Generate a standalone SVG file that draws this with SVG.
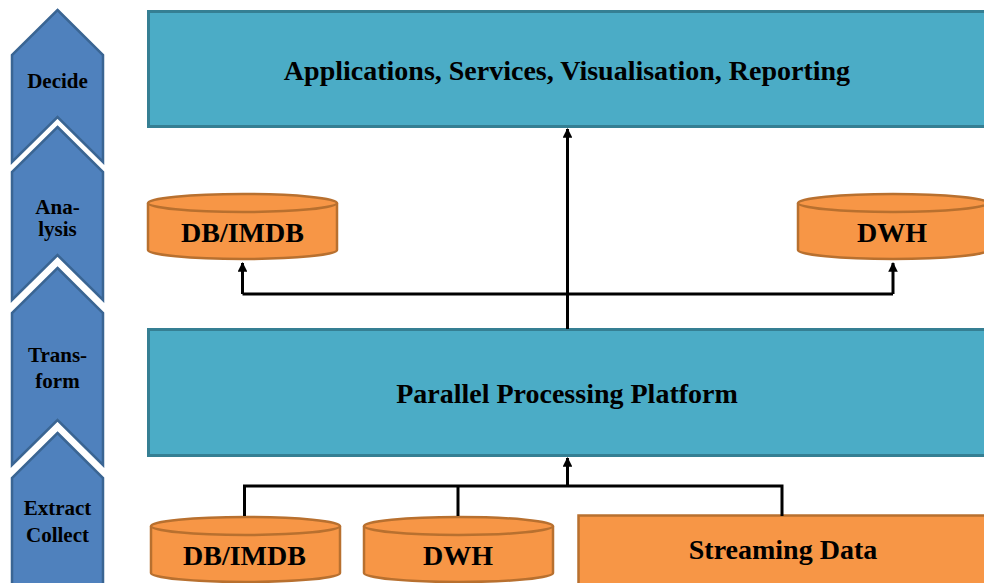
<svg xmlns="http://www.w3.org/2000/svg" width="984" height="583" viewBox="0 0 984 583">
<style>
.teal{fill:#4BACC6;stroke:#357F93;stroke-width:3}
.org{fill:#F79646;stroke:#B8702F;stroke-width:2.5}
.chev{fill:#4F81BD;stroke:#3A6593;stroke-width:2.5}
.t{font-family:"Liberation Serif","Times New Roman",serif;font-weight:bold;fill:#000;text-anchor:middle}
.big{font-size:28px}
.sm{font-size:21px}
.c{fill:none;stroke:#000;stroke-width:3}
</style>
<defs>
<marker id="ah" viewBox="0 0 10 10" refX="9" refY="5" markerWidth="3.2" markerHeight="3.2" orient="auto" markerUnits="strokeWidth">
<path d="M0,0 L10,5 L0,10 z" fill="#000"/>
</marker>
</defs>
<rect width="984" height="583" fill="#fff"/>
<g id="chevrons">
<g id="decide"><path class="chev" d="M57.5,10 L103,55 L103,162 L57.5,117 L12,162 L12,55 Z"/><text class="t sm" x="57.5" y="88">Decide</text></g>
<g id="analysis"><path class="chev" d="M57.5,127 L103,172 L103,300 L57.5,255 L12,300 L12,172 Z"/><text class="t sm" x="57.5" y="214">Ana-</text><text class="t sm" x="57.5" y="236">lysis</text></g>
<g id="transform"><path class="chev" d="M57.5,268 L103,313 L103,465 L57.5,420 L12,465 L12,313 Z"/><text class="t sm" x="57.5" y="362">Trans-</text><text class="t sm" x="57.5" y="388">form</text></g>
<g id="extract"><path class="chev" d="M57.5,433 L103,478 L103,600 L12,600 L12,478 Z"/><text class="t sm" x="57.5" y="515">Extract</text><text class="t sm" x="57.5" y="542">Collect</text></g>
</g>
<g id="applications"><rect class="teal" x="148.5" y="11.5" width="850" height="115"/><text class="t big" x="567" y="80">Applications, Services, Visualisation, Reporting</text></g>
<g id="platform"><rect class="teal" x="148.5" y="329.5" width="850" height="126"/><text class="t big" x="567" y="403">Parallel Processing Platform</text></g>
<g id="db-top"><path class="org" d="M148,203 L148,250 A94.5,9 0 0 0 337,250 L337,203"/><ellipse class="org" cx="242.5" cy="203" rx="94.5" ry="9"/><text class="t big" x="242.5" y="242">DB/IMDB</text></g>
<g id="dwh-top"><path class="org" d="M798,203 L798,250 A95,9 0 0 0 988,250 L988,203"/><ellipse class="org" cx="893" cy="203" rx="95" ry="9"/><text class="t big" x="892" y="242">DWH</text></g>
<g id="db-bottom"><path class="org" d="M151,526 L151,573 A94.5,9 0 0 0 340,573 L340,526"/><ellipse class="org" cx="245.5" cy="526" rx="94.5" ry="9"/><text class="t big" x="244.5" y="565">DB/IMDB</text></g>
<g id="dwh-bottom"><path class="org" d="M364,526 L364,573 A94.5,9 0 0 0 553,573 L553,526"/><ellipse class="org" cx="458.5" cy="526" rx="94.5" ry="9"/><text class="t big" x="458" y="565">DWH</text></g>
<g id="streaming"><rect class="org" x="578.5" y="515.5" width="420" height="80"/><text class="t big" x="783" y="559">Streaming Data</text></g>
<g id="connectors">
<path class="c" d="M567.5,329 L567.5,129" marker-end="url(#ah)"/>
<path class="c" d="M242.5,294 L893,294"/>
<path class="c" d="M242.5,294 L242.5,263" marker-end="url(#ah)"/>
<path class="c" d="M893,294 L893,263" marker-end="url(#ah)"/>
<path class="c" d="M244.5,516 L244.5,486 L782,486 L782,516"/>
<path class="c" d="M458,516 L458,486"/>
<path class="c" d="M567.5,486 L567.5,458" marker-end="url(#ah)"/>
</g>
</svg>
